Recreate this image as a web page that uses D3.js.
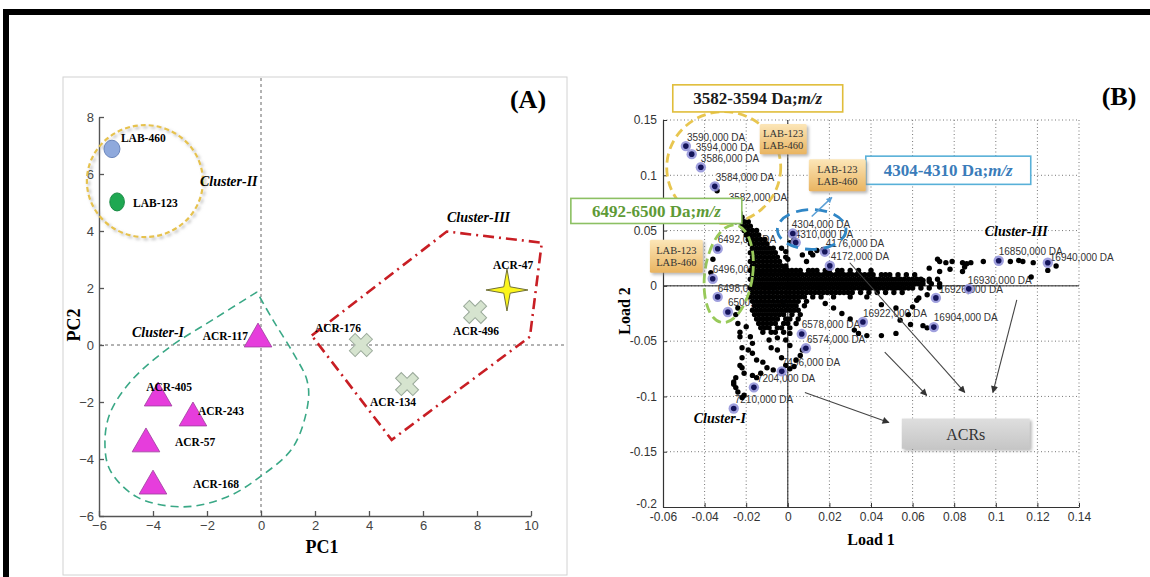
<!DOCTYPE html>
<html>
<head>
<meta charset="utf-8">
<script src="https://cdn.jsdelivr.net/npm/d3@7"></script>
<style>
  body { margin: 0; background: #fff; }
</style>
</head>
<body>
<svg id="fig"></svg>
<script>
const W = 1150, H = 577;
const serif = "'Liberation Serif', 'Times New Roman', serif";
const sans = "'Liberation Sans', Arial, sans-serif";

// ---------- panel A : PCA scores ----------
const pcTicksX = [-6, -4, -2, 0, 2, 4, 6, 8, 10];
const pcTicksY = [-6, -4, -2, 0, 2, 4, 6, 8];

const labNames = ["LAB-460", "LAB-123"];
const labPC1 = [-5.52, -5.33];
const labPC2 = [6.88, 5.02];

const triNames = ["ACR-117", "ACR-405", "ACR-243", "ACR-57", "ACR-168"];
const triPC1 = [-0.11, -3.81, -2.52, -4.26, -4.0];
const triPC2 = [0.21, -1.86, -2.56, -3.47, -4.95];

const crossNames = ["ACR-176", "ACR-134", "ACR-496"];
const crossPC1 = [3.7, 5.41, 7.93];
const crossPC2 = [0.0, -1.37, 1.16];

const starNames = ["ACR-47"];
const starPC1 = [9.11];
const starPC2 = [1.93];

// cluster outlines (PC1, PC2)
const cluster1Outline = [[-0.15, 1.86], [-1.76, 0.9], [-3.37, -0.07], [-4.78, -1.23], [-5.59, -2.39],
  [-5.78, -3.44], [-5.59, -4.39], [-4.6, -5.33], [-2.89, -5.68], [-1.26, -5.33], [-0.04, -4.63],
  [1.19, -3.58], [1.74, -2.04], [1.7, -1.23], [1.19, -0.28], [0.44, 0.88], [-0.15, 1.86]];
const cluster3Outline = [[1.88, 0.33], [6.88, 3.98], [10.4, 3.59], [9.96, 0.29], [4.84, -3.33], [1.88, 0.33]];
const cluster2Centre = [-4.3, 5.75];

// ---------- panel B : loadings ----------
const loadTicksX = [-0.06, -0.04, -0.02, 0, 0.02, 0.04, 0.06, 0.08, 0.1, 0.12, 0.14];
const loadTicksY = [-0.2, -0.15, -0.1, -0.05, 0, 0.05, 0.1, 0.15];

// dense part of the loading cloud: [Load 2, [Load 1 ...]] in thousandths
const coreRows = [
  [66, [-25, -23]],
  [62, [-24, -22]],
  [58, [-25, -23, -21, -19]],
  [54, [-22, -20, -18]],
  [50, [-21, -19, -17, -15]],
  [46, [-20, -18, -16, -14]],
  [42, [-19, -17, -15, -13, -11]],
  [38, [-18, -16, -14, -12, -10]],
  [34, [-17, -15, -13, -11, -9, -7, -3]],
  [30, [-18, -16, -14, -12, -10, -8, -6]],
  [26, [-17, -15, -13, -11, -9, -7, -5, -1]],
  [22, [-18, -16, -14, -12, -10, -8, -6, -4]],
  [18, [-17, -15, -13, -11, -9, -7, -5, -3, -1]],
  [14, [-18, -16, -14, -12, -10, -8, -6, -4, -2, 0, 2, 4, 6, 10, 12, 14, 18, 20, 24, 26, 30, 34, 40]],
  [10, [-17, -15, -13, -11, -9, -7, -5, -3, -1, 1, 3, 5, 7, 9, 11, 13, 15, 17, 19, 21, 23, 25, 27, 29,
        31, 33, 35, 37, 39, 41, 45, 47, 49, 53, 57, 61]],
  [6, [-18, -16, -14, -12, -10, -8, -6, -4, -2, 0, 2, 4, 6, 8, 10, 12, 14, 16, 18, 20, 22, 24, 26, 28,
       30, 32, 34, 36, 38, 40, 42, 44, 46, 48, 50, 52, 54, 56, 58, 60, 62, 64, 68, 72]],
  [2, [-17, -15, -13, -11, -9, -7, -5, -3, -1, 1, 3, 5, 7, 9, 11, 13, 15, 17, 19, 21, 23, 25, 27, 29,
       31, 33, 35, 37, 39, 41, 43, 45, 47, 49, 51, 53, 55, 57, 59, 61, 63, 65, 69, 73]],
  [-2, [-18, -16, -14, -12, -10, -8, -6, -4, -2, 0, 2, 4, 6, 8, 10, 12, 14, 16, 18, 20, 22, 24, 26, 28,
        30, 32, 34, 36, 38, 40, 42, 44, 46, 48, 50, 52, 54, 56, 58, 60, 64, 68]],
  [-6, [-17, -15, -13, -11, -9, -7, -5, -3, -1, 1, 3, 5, 7, 9, 11, 13, 15, 17, 19, 21, 23, 25, 27, 29,
        31, 35, 39, 43, 47, 51, 55]],
  [-10, [-18, -16, -14, -12, -10, -8, -6, -4, -2, 0, 2, 4, 6, 8, 12, 16, 22, 30, 38]],
  [-14, [-17, -15, -13, -11, -9, -7, -5, -3, -1, 1, 3, 5, 9]],
  [-18, [-16, -14, -12, -10, -8, -6, -4, -2, 0, 2, 4, 8]],
  [-22, [-17, -15, -13, -11, -9, -7, -5, -3, -1, 1, 3, 5]],
  [-26, [-16, -14, -12, -10, -8, -6, -4, -2, 2, 6]],
  [-30, [-15, -13, -11, -9, -7, -5, -1, 1, 5]],
  [-34, [-14, -12, -10, -8, -6, -2, 0, 4]],
  [-38, [-13, -11, -9, -5, -3, 1]],
  [-42, [-12, -8, -6, -2]]
];

// scattered loadings [Load 1, Load 2] in thousandths
const loosePts = [
  [72, 24], [73, 22], [76, 21], [79, 22], [84, 21], [86, 20], [88, 21], [94, 22], [107, 22], [111, 23],
  [113, 22], [118, 21], [129, 18], [125, 14], [117, 8],
  [68, 16], [73, 13], [78, 15], [84, 13], [85, 17], [65, 5], [68, 4], [73, -1], [67, -8], [63, -11],
  [45, -17], [52, -20], [60, -19], [62, -13], [58, -26], [54, -31], [59, -35], [65, -36], [67, -38],
  [52, -43], [45, -45], [38, -45], [34, -43], [32, -40], [30, -30], [26, -25], [22, -20], [18, -16],
  [-24, -34], [-23, -42], [-23, -46], [-22, -56], [-22, -65], [-23, -72], [-22, -74], [-21, -79],
  [-25, -83], [-26, -87], [-26, -89], [-25, -92], [-24, -96], [-22, -101], [-21, -99],
  [-20, -37], [-18, -46], [-17, -52], [-19, -58], [-17, -61], [-15, -67], [-12, -69], [-10, -74],
  [-7, -76], [-13, -79], [-15, -83], [-17, -81],
  [-5, -58], [-3, -65], [-1, -72], [1, -75], [3, -73], [4, -67], [6, -63], [7, -58], [1, -54],
  [-1, -49], [-5, -47], [-8, -56], [-9, -49], [1, -43],
  [-1, 31], [1, 39], [7, 28], [11, 30], [14, 32], [17, 33], [0, 24], [-1, 17], [3, 42], [9, 22], [12, 28],
  [-26, 66], [-23, 63], [-20, 49], [-34, 86], [-36, 24], [-37, 12], [-24, -20], [-25, -26]
];

// labelled peaks
const peakNames = ["3590,000 DA", "3594,000 DA", "3586,000 DA", "3584,000 DA", "3582,000 DA",
  "6492,000 DA", "6496,000 DA", "6498,000 DA", "6500,000 DA",
  "4304,000 DA", "4310,000 DA", "4176,000 DA", "4172,000 DA",
  "6578,000 DA", "6574,000 DA", "7496,000 DA", "7204,000 DA", "7210,000 DA",
  "16850,000 DA", "16940,000 DA", "16930,000 DA", "16926,000 DA", "16922,000 DA", "16904,000 DA"];
const peakL1 = [-0.0490, -0.0462, -0.0418, -0.0351, -0.0284,
  -0.0337, -0.0361, -0.0337, -0.0288,
  0.0024, 0.0038, 0.0178, 0.0202,
  0.0067, 0.0087, -0.0029, -0.0163, -0.0260,
  0.1014, 0.1250, 0.0870, 0.0712, 0.0361, 0.0702];
const peakL2 = [0.1264, 0.1191, 0.1073, 0.0900, 0.0727,
  0.0336, 0.0064, -0.0100, -0.0236,
  0.0473, 0.0391, 0.0309, 0.0182,
  -0.0436, -0.0564, -0.0773, -0.0918, -0.1109,
  0.0227, 0.0209, -0.0027, -0.0109, -0.0327, -0.0373];

// label nudges (px) for the peaks above
const peakNudge = [[1, -5], [4, -3], [0, -5], [1, -5], [0, -4],
  [0, -6], [0, -6], [0, -5], [0, -6],
  [-1, -6], [-1, -5], [1, -5], [1, -6],
  [0, -6], [1, -5], [0, -5], [3, -5], [1, -5],
  [0, -6], [2, -2], [-1, -5], [3, -5], [0, -5], [0, -6]];

const svg = d3.select("#fig").attr("width", W).attr("height", H);
const defs = svg.append("defs");

const shadow = defs.append("filter").attr("id", "shadow").attr("x", "-20%").attr("y", "-20%")
  .attr("width", "150%").attr("height", "150%");
shadow.append("feDropShadow").attr("dx", 2).attr("dy", 2).attr("stdDeviation", 1.5)
  .attr("flood-color", "#888").attr("flood-opacity", 0.6);

const gold = defs.append("linearGradient").attr("id", "gold").attr("x1", 0).attr("x2", 0).attr("y1", 0).attr("y2", 1);
gold.append("stop").attr("offset", "0%").attr("stop-color", "#fce6b8");
gold.append("stop").attr("offset", "100%").attr("stop-color", "#e9b460");

const grey = defs.append("linearGradient").attr("id", "grey").attr("x1", 0).attr("x2", 0).attr("y1", 0).attr("y2", 1);
grey.append("stop").attr("offset", "0%").attr("stop-color", "#dedede");
grey.append("stop").attr("offset", "100%").attr("stop-color", "#c6c6c6");

defs.append("marker").attr("id", "arr").attr("viewBox", "0 0 10 10").attr("refX", 9).attr("refY", 5)
  .attr("markerWidth", 9).attr("markerHeight", 7).attr("markerUnits", "userSpaceOnUse")
  .attr("orient", "auto")
  .append("path").attr("d", "M0,0L10,5L0,10z").attr("fill", "#333");
defs.append("marker").attr("id", "arrBlue").attr("viewBox", "0 0 10 10").attr("refX", 9).attr("refY", 5)
  .attr("markerWidth", 8).attr("markerHeight", 6).attr("markerUnits", "userSpaceOnUse")
  .attr("orient", "auto")
  .append("path").attr("d", "M0,0L10,5L0,10z").attr("fill", "#5a9fd6");

svg.append("rect").attr("width", W).attr("height", H).attr("fill", "#fff");

// outer frame
svg.append("rect").attr("x", 3).attr("y", 9).attr("width", W - 3).attr("height", 6).attr("fill", "#000");
svg.append("rect").attr("x", 3).attr("y", 9).attr("width", 6).attr("height", H - 9).attr("fill", "#000");

// ================= panel A =================
const gA = svg.append("g");
gA.append("rect").attr("x", 63).attr("y", 77).attr("width", 504).attr("height", 498)
  .attr("fill", "none").attr("stroke", "#d2d2d2");

const xA = d3.scaleLinear().domain([-6, 10]).range([99, 531]);
const yA = d3.scaleLinear().domain([-6, 8]).range([516, 117]);

gA.append("line").attr("x1", xA(0)).attr("x2", xA(0)).attr("y1", 78).attr("y2", yA(-6))
  .attr("stroke", "#666").attr("stroke-dasharray", "3,3");
gA.append("line").attr("x1", xA(-6)).attr("x2", 565).attr("y1", yA(0)).attr("y2", yA(0))
  .attr("stroke", "#666").attr("stroke-dasharray", "3,3");

const axA1 = gA.append("g").attr("transform", `translate(0,${yA(-6)})`)
  .call(d3.axisBottom(xA).tickValues(pcTicksX).tickSizeInner(-5).tickSizeOuter(0).tickPadding(5));
const axA2 = gA.append("g").attr("transform", `translate(${xA(-6)},0)`)
  .call(d3.axisLeft(yA).tickValues(pcTicksY).tickSizeInner(-5).tickSizeOuter(0).tickPadding(5));
[axA1, axA2].forEach(ax => {
  ax.select(".domain").attr("stroke", "#555").attr("stroke-width", 1.4);
  ax.selectAll(".tick line").attr("stroke", "#555").attr("stroke-width", 1.3);
  ax.selectAll("text").attr("font-family", sans).attr("font-size", 13).attr("fill", "#444");
});

gA.append("text").attr("x", 322).attr("y", 553).attr("text-anchor", "middle")
  .attr("font-family", serif).attr("font-weight", "bold").attr("font-size", 18).text("PC1");
gA.append("text").attr("transform", "translate(80,325) rotate(-90)").attr("text-anchor", "middle")
  .attr("font-family", serif).attr("font-weight", "bold").attr("font-size", 18).text("PC2");
gA.append("text").attr("x", 528).attr("y", 108).attr("text-anchor", "middle")
  .attr("font-family", serif).attr("font-weight", "bold").attr("font-size", 26).text("(A)");

// cluster outlines
gA.append("ellipse").attr("cx", xA(cluster2Centre[0])).attr("cy", yA(cluster2Centre[1]))
  .attr("rx", 58).attr("ry", 56).attr("fill", "none").attr("stroke", "#e6c24e")
  .attr("stroke-width", 2.2).attr("stroke-dasharray", "5,3").attr("filter", "url(#shadow)");

const lineA = d3.line().x(d => xA(d[0])).y(d => yA(d[1]));
gA.append("path").attr("d", lineA.curve(d3.curveCatmullRom)(cluster1Outline))
  .attr("fill", "none").attr("stroke", "#3aa886").attr("stroke-width", 1.6).attr("stroke-dasharray", "8,5");
gA.append("path").attr("d", d3.line().x(d => xA(d[0])).y(d => yA(d[1]))(cluster3Outline))
  .attr("fill", "none").attr("stroke", "#c81e24").attr("stroke-width", 2.6)
  .attr("stroke-dasharray", "11,5,2,5");

const boldSerif = (sel, size) => sel.attr("font-family", serif).attr("font-weight", "bold").attr("font-size", size);

boldSerif(gA.append("text").attr("x", xA(-4.78)).attr("y", yA(0.28)).attr("font-style", "italic"), 14).text("Cluster-I");
boldSerif(gA.append("text").attr("x", xA(-2.26)).attr("y", yA(5.58)).attr("font-style", "italic"), 14).text("Cluster-II");
boldSerif(gA.append("text").attr("x", xA(6.89)).attr("y", yA(4.32)).attr("font-style", "italic"), 14).text("Cluster-III");

// LAB samples
const labFill = ["#8fa9dc", "#1fa852"], labStroke = ["#6b86bc", "#178a42"];
const labR = [[8, 8.7], [7.3, 9]];
const labNudge = [[9, -7], [16, 5]];
gA.selectAll(".lab").data(labNames).enter().append("ellipse")
  .attr("cx", (d, i) => xA(labPC1[i])).attr("cy", (d, i) => yA(labPC2[i]))
  .attr("rx", (d, i) => labR[i][0]).attr("ry", (d, i) => labR[i][1])
  .attr("fill", (d, i) => labFill[i]).attr("stroke", (d, i) => labStroke[i]);
boldSerif(gA.selectAll(".labT").data(labNames).enter().append("text")
  .attr("x", (d, i) => xA(labPC1[i]) + labNudge[i][0]).attr("y", (d, i) => yA(labPC2[i]) + labNudge[i][1]), 11.5)
  .text(d => d);

// ACR triangles
const triNudge = [[-10, 1, "end"], [-12, -7, "start"], [5, -3, "start"], [29, 2, "start"], [40, 2, "start"]];
gA.selectAll(".tri").data(triNames).enter().append("path")
  .attr("d", d3.symbol(d3.symbolTriangle, 330))
  .attr("transform", (d, i) => `translate(${xA(triPC1[i])},${yA(triPC2[i])})`)
  .attr("fill", "#e63ddc").attr("stroke", "#9a3f9a").attr("stroke-width", 0.8);
boldSerif(gA.selectAll(".triT").data(triNames).enter().append("text")
  .attr("x", (d, i) => xA(triPC1[i]) + triNudge[i][0]).attr("y", (d, i) => yA(triPC2[i]) + triNudge[i][1])
  .attr("text-anchor", (d, i) => triNudge[i][2]), 11.5)
  .text(d => d);

// ACR crosses
const crossNudge = [[-46, -13], [-37, 22], [-22, 23]];
gA.selectAll(".crs").data(crossNames).enter().append("path")
  .attr("d", d3.symbol(d3.symbolCross, 330))
  .attr("transform", (d, i) => `translate(${xA(crossPC1[i])},${yA(crossPC2[i])}) rotate(45)`)
  .attr("fill", "#d6e4cf").attr("stroke", "#9aa99a").attr("stroke-width", 1);
boldSerif(gA.selectAll(".crsT").data(crossNames).enter().append("text")
  .attr("x", (d, i) => xA(crossPC1[i]) + crossNudge[i][0]).attr("y", (d, i) => yA(crossPC2[i]) + crossNudge[i][1]), 11.5)
  .text(d => d);

// ACR-47 star
const starShape = d3.lineRadial().curve(d3.curveLinearClosed)
  .angle((d, i) => i * Math.PI / 4).radius((d, i) => i % 2 ? 4.5 : 21);
gA.selectAll(".star").data(starNames).enter().append("path")
  .attr("d", starShape(d3.range(8)))
  .attr("transform", (d, i) => `translate(${xA(starPC1[i])},${yA(starPC2[i])})`)
  .attr("fill", "#fbf51c").attr("stroke", "#6f6f3a").attr("stroke-width", 1);
boldSerif(gA.selectAll(".starT").data(starNames).enter().append("text")
  .attr("x", (d, i) => xA(starPC1[i]) - 14).attr("y", (d, i) => yA(starPC2[i]) - 21), 11.5)
  .text(d => d);

// ================= panel B =================
const gB = svg.append("g");
const xB = d3.scaleLinear().domain([-0.06, 0.14]).range([663, 1079]);
const yB = d3.scaleLinear().domain([-0.2, 0.15]).range([507, 120]);

// grid
gB.selectAll(".gx").data(loadTicksX.slice(1)).enter().append("line")
  .attr("x1", d => xB(d)).attr("x2", d => xB(d)).attr("y1", yB(0.15)).attr("y2", yB(-0.2))
  .attr("stroke", "#777").attr("stroke-dasharray", "1,2.5");
gB.selectAll(".gy").data(loadTicksY.slice(1)).enter().append("line")
  .attr("x1", xB(-0.06)).attr("x2", xB(0.14)).attr("y1", d => yB(d)).attr("y2", d => yB(d))
  .attr("stroke", "#777").attr("stroke-dasharray", "1,2.5");
gB.append("line").attr("x1", xB(0)).attr("x2", xB(0)).attr("y1", yB(0.15)).attr("y2", yB(-0.2))
  .attr("stroke", "#222").attr("stroke-width", 1);
gB.append("line").attr("x1", xB(-0.06)).attr("x2", xB(0.14)).attr("y1", yB(0)).attr("y2", yB(0))
  .attr("stroke", "#222").attr("stroke-width", 1);

const fmt = d => String(+d.toFixed(2));
const axB1 = gB.append("g").attr("transform", `translate(0,${yB(-0.2)})`)
  .call(d3.axisBottom(xB).tickValues(loadTicksX).tickFormat(fmt).tickSizeInner(-4).tickSizeOuter(0).tickPadding(5));
const axB2 = gB.append("g").attr("transform", `translate(${xB(-0.06)},0)`)
  .call(d3.axisLeft(yB).tickValues(loadTicksY).tickFormat(fmt).tickSizeInner(-4).tickSizeOuter(0).tickPadding(6));
[axB1, axB2].forEach(ax => {
  ax.select(".domain").attr("stroke", "#333").attr("stroke-width", 1.2);
  ax.selectAll(".tick line").attr("stroke", "#333");
  ax.selectAll("text").attr("font-family", sans).attr("font-size", 12).attr("fill", "#333");
});
// the bottom-most y label sits a little higher, as in the original corner
axB2.selectAll(".tick").filter(d => d === -0.2).select("text").attr("y", -3);

gB.append("text").attr("x", 871).attr("y", 545).attr("text-anchor", "middle")
  .attr("font-family", serif).attr("font-weight", "bold").attr("font-size", 16).text("Load 1");
gB.append("text").attr("transform", "translate(630,311) rotate(-90)").attr("text-anchor", "middle")
  .attr("font-family", serif).attr("font-weight", "bold").attr("font-size", 16).text("Load 2");
gB.append("text").attr("x", 1119).attr("y", 105).attr("text-anchor", "middle")
  .attr("font-family", serif).attr("font-weight", "bold").attr("font-size", 26).text("(B)");

// peak labels
gB.selectAll(".pkT").data(peakNames).enter().append("text")
  .attr("x", (d, i) => xB(peakL1[i]) + peakNudge[i][0]).attr("y", (d, i) => yB(peakL2[i]) + peakNudge[i][1])
  .attr("font-family", sans).attr("font-size", 10).attr("fill", "#333").text(d => d);

// loading cloud
const cloud = coreRows.flatMap(([y, xs]) => xs.map(x => [x / 1000, y / 1000]))
  .concat(loosePts.map(([x, y]) => [x / 1000, y / 1000]));
gB.selectAll(".dot").data(cloud).enter().append("circle")
  .attr("cx", d => xB(d[0])).attr("cy", d => yB(d[1])).attr("r", 2.7).attr("fill", "#000");

// labelled peaks
gB.selectAll(".pkH").data(peakNames).enter().append("circle")
  .attr("cx", (d, i) => xB(peakL1[i])).attr("cy", (d, i) => yB(peakL2[i])).attr("r", 5.2)
  .attr("fill", "#8f8fd8").attr("opacity", 0.85);
gB.selectAll(".pk").data(peakNames).enter().append("circle")
  .attr("cx", (d, i) => xB(peakL1[i])).attr("cy", (d, i) => yB(peakL2[i])).attr("r", 2.8)
  .attr("fill", "#15155a");

// group ellipses (Load 1, Load 2 centre; radii in load units)
const ringL1 = [-0.0308, -0.0284, 0.0115];
const ringL2 = [0.107, 0.011, 0.051];
const ringR1 = [0.0274, 0.0115, 0.0165];
const ringR2 = [0.0505, 0.0445, 0.018];
const ringStroke = ["#e8c650", "#98c95a", "#2f86c6"];
const ringDash = ["9,5", "10,5", "12,7"];
const ringTilt = [0, 8, 0];
gB.selectAll(".ring").data(ringL1).enter().append("ellipse")
  .attr("transform", (d, i) => `translate(${xB(d)},${yB(ringL2[i])}) rotate(${ringTilt[i]})`)
  .attr("rx", (d, i) => xB(ringR1[i]) - xB(0)).attr("ry", (d, i) => yB(0) - yB(ringR2[i]))
  .attr("fill", "none").attr("stroke", (d, i) => ringStroke[i]).attr("stroke-width", 2.8)
  .attr("stroke-dasharray", (d, i) => ringDash[i]);

// blue pointer arrow
gB.append("line").attr("x1", xB(0.0115)).attr("y1", yB(0.0627)).attr("x2", xB(0.0212)).attr("y2", yB(0.080))
  .attr("stroke", "#5a9fd6").attr("stroke-width", 1.5).attr("marker-end", "url(#arrBlue)");

// arrows towards the ACR box
const arrowFrom = [[0.0298, 0.0209], [0.1101, -0.0127], [0.0466, -0.06], [0.0082, -0.0964]];
const arrowTo = [[0.0851, -0.0964], [0.0986, -0.0964], [0.0668, -0.0991], [0.0486, -0.1236]];
gB.selectAll(".arw").data(arrowFrom).enter().append("line")
  .attr("x1", d => xB(d[0])).attr("y1", d => yB(d[1]))
  .attr("x2", (d, i) => xB(arrowTo[i][0])).attr("y2", (d, i) => yB(arrowTo[i][1]))
  .attr("stroke", "#444").attr("stroke-width", 1.1).attr("marker-end", "url(#arr)");

// cluster names
boldSerif(gB.append("text").attr("x", xB(-0.0452)).attr("y", yB(-0.124)).attr("font-style", "italic"), 14).text("Cluster-I");
boldSerif(gB.append("text").attr("x", xB(0.0947)).attr("y", yB(0.0455)).attr("font-style", "italic"), 14).text("Cluster-III");

// m/z range boxes
const rangeText = ["3582-3594 Da;", "6492-6500 Da;", "4304-4310 Da;"];
const rangeBox = [[-0.0553, 0.1818, 0.0264, 0.1573], [-0.1043, 0.0791, -0.0221, 0.0564], [0.0375, 0.1173, 0.1168, 0.0918]];
const rangeStroke = ["#e0bd3a", "#8cc063", "#58b0d8"];
const rangeFill = ["#1a1a1a", "#5e9a36", "#3a7cba"];
rangeText.forEach((t, i) => {
  const b = rangeBox[i];
  gB.append("rect").attr("x", xB(b[0])).attr("y", yB(b[1]))
    .attr("width", xB(b[2]) - xB(b[0])).attr("height", yB(b[3]) - yB(b[1]))
    .attr("fill", "#fff").attr("stroke", rangeStroke[i]).attr("stroke-width", 1.6);
  const tx = boldSerif(gB.append("text").attr("x", (xB(b[0]) + xB(b[2])) / 2)
    .attr("y", (yB(b[1]) + yB(b[3])) / 2 + 6).attr("text-anchor", "middle").attr("fill", rangeFill[i]), 17);
  tx.append("tspan").text(t);
  tx.append("tspan").attr("font-style", "italic").text("m/z");
});

// LAB tags
const tagBox = [[-0.0135, 0.1464, 0.0091, 0.1191], [0.0101, 0.1145, 0.0375, 0.0855], [-0.0663, 0.0418, -0.0409, 0.0118]];
tagBox.forEach(b => {
  const x0 = xB(b[0]), y0 = yB(b[1]), w = xB(b[2]) - x0, h = yB(b[3]) - y0;
  gB.append("rect").attr("x", x0).attr("y", y0).attr("width", w).attr("height", h)
    .attr("fill", "url(#gold)").attr("rx", 1.5).attr("filter", "url(#shadow)");
  ["LAB-123", "LAB-460"].forEach((s, k) => {
    gB.append("text").attr("x", x0 + w / 2).attr("y", y0 + h / 2 - 2 + k * 12).attr("text-anchor", "middle")
      .attr("font-family", serif).attr("font-size", 10.5).attr("fill", "#333").text(s);
  });
});

// ACRs box
const acrBox = [0.0548, -0.12, 0.1163, -0.1473];
gB.append("rect").attr("x", xB(acrBox[0])).attr("y", yB(acrBox[1]))
  .attr("width", xB(acrBox[2]) - xB(acrBox[0])).attr("height", yB(acrBox[3]) - yB(acrBox[1]))
  .attr("fill", "url(#grey)").attr("filter", "url(#shadow)");
gB.append("text").attr("x", (xB(acrBox[0]) + xB(acrBox[2])) / 2).attr("y", (yB(acrBox[1]) + yB(acrBox[3])) / 2 + 6)
  .attr("text-anchor", "middle").attr("font-family", serif).attr("font-size", 16).attr("fill", "#333").text("ACRs");
</script>
</body>
</html>
